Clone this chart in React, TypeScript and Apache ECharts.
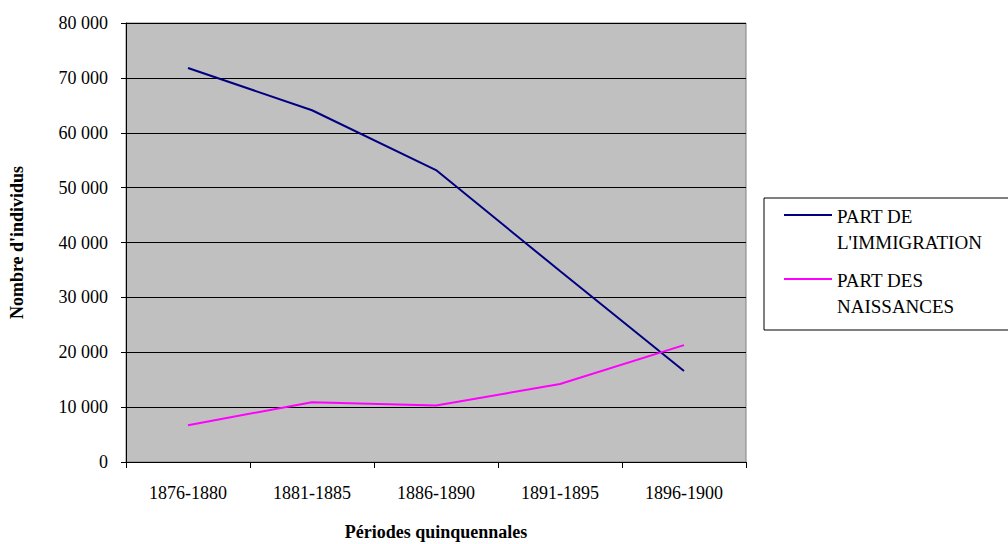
import React, { useEffect, useRef } from "react";
import * as echarts from "echarts";

const categories = ["1876-1880", "1881-1885", "1886-1890", "1891-1895", "1896-1900"];
const immigration = [71800, 64100, 53200, 34800, 16600];
const naissances = [6700, 10900, 10300, 14200, 21300];
const seriesNames = ["PART DE L'IMMIGRATION", "PART DES NAISSANCES"];
const legendLines = [["PART DE", "L'IMMIGRATION"], ["PART DES", "NAISSANCES"]];
const colors = ["#000080", "#FF00FF"];

const FONT = "Liberation Serif";

export default function App() {
  const ref = useRef<HTMLDivElement>(null);
  useEffect(() => {
    if (!ref.current) return;
    const chart = echarts.init(ref.current, undefined, { renderer: "svg" });
    const legendGraphics: any[] = [
      {
        type: "rect",
        shape: { x: 764, y: 198, width: 260, height: 132 },
        style: { fill: "#fff", stroke: "#000", lineWidth: 1 },
      },
    ];
    const lineYs = [215, 279];
    legendLines.forEach((lines, i) => {
      legendGraphics.push({
        type: "line",
        shape: { x1: 784, y1: lineYs[i], x2: 832, y2: lineYs[i] },
        style: { stroke: colors[i], lineWidth: 2 },
      });
      lines.forEach((t, j) => {
        legendGraphics.push({
          type: "text",
          x: 837,
          y: lineYs[i] + 1 + j * 26,
          style: {
            text: t,
            fontFamily: FONT,
            fontSize: 19,
            fill: "#000",
            verticalAlign: "middle",
            align: "left",
          },
        });
      });
    });
    chart.setOption({
      animation: false,
      textStyle: { fontFamily: FONT },
      grid: {
        left: 126,
        top: 23,
        width: 620,
        height: 439,
        show: true,
        containLabel: false,
        outerBoundsMode: "none",
        backgroundColor: "#C0C0C0",
        borderColor: "#808080",
        borderWidth: 1,
      },
      xAxis: {
        type: "category",
        data: categories,
        boundaryGap: true,
        name: "Périodes quinquennales",
        nameLocation: "middle",
        nameGap: 61,
        nameTextStyle: { fontFamily: FONT, fontSize: 18, fontWeight: "bold", color: "#000" },
        axisLine: { lineStyle: { color: "#000", width: 1 } },
        axisTick: { show: true, length: 6, alignWithLabel: false, lineStyle: { color: "#000" } },
        axisLabel: { fontFamily: FONT, fontSize: 18, color: "#000", margin: 22 },
        splitLine: { show: false },
      },
      yAxis: {
        type: "value",
        min: 0,
        max: 80000,
        interval: 10000,
        name: "Nombre d'individus",
        nameLocation: "middle",
        nameGap: 100,
        nameTextStyle: { fontFamily: FONT, fontSize: 18, fontWeight: "bold", color: "#000" },
        axisLine: { show: true, lineStyle: { color: "#000", width: 1 } },
        axisTick: { show: true, length: 5, lineStyle: { color: "#000" } },
        axisLabel: {
          fontFamily: FONT,
          fontSize: 18,
          color: "#000",
          margin: 18,
          formatter: (v: number) =>
            v === 0 ? "0" : String(v).replace(/\B(?=(\d{3})+(?!\d))/g, " "),
        },
        splitLine: { show: true, lineStyle: { color: "#000", width: 1 } },
      },
      series: [
        {
          name: seriesNames[0],
          type: "line",
          data: immigration,
          symbol: "none",
          lineStyle: { color: colors[0], width: 2 },
          itemStyle: { color: colors[0] },
        },
        {
          name: seriesNames[1],
          type: "line",
          data: naissances,
          symbol: "none",
          lineStyle: { color: colors[1], width: 2 },
          itemStyle: { color: colors[1] },
        },
      ],
      graphic: legendGraphics,
    });
    return () => chart.dispose();
  }, []);
  return (
    <div
      ref={ref}
      style={{ position: "fixed", left: 0, top: 0, width: 1008, height: 544, background: "#fff" }}
    />
  );
}
